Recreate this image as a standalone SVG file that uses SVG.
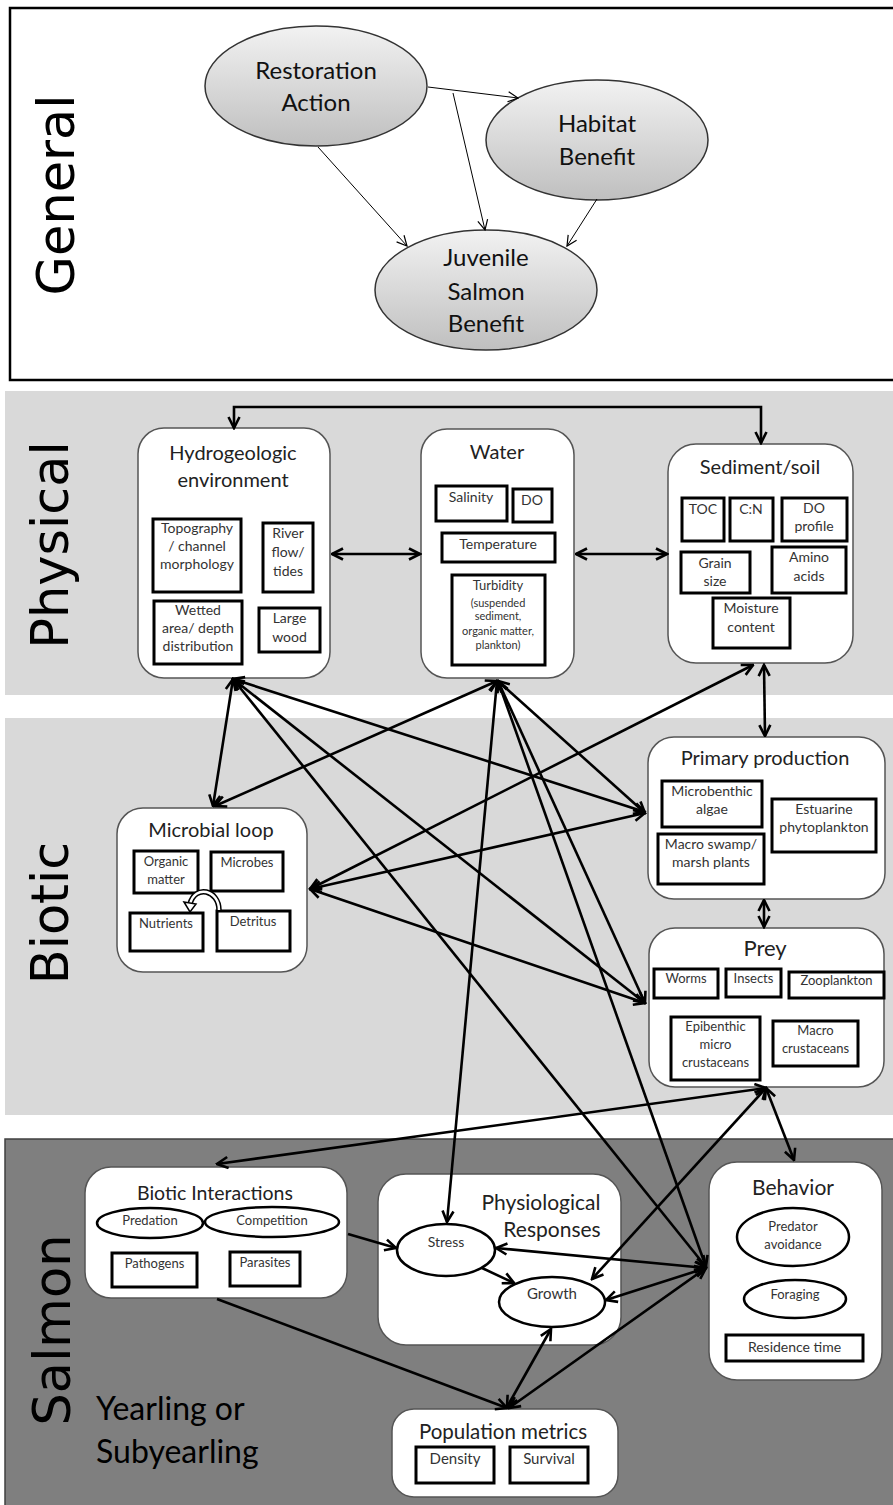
<svg xmlns="http://www.w3.org/2000/svg" width="893" height="1505" viewBox="0 0 893 1505">
<defs>
<linearGradient id="eg" x1="0" y1="0" x2="0" y2="1">
<stop offset="0" stop-color="#f2f2f2"/><stop offset="1" stop-color="#bfbfbf"/>
</linearGradient>
<marker id="ah" viewBox="0 0 14 14" refX="12.5" refY="7" markerWidth="14" markerHeight="14" markerUnits="userSpaceOnUse" orient="auto-start-reverse">
<path d="M1.5,1.5 L12.5,7 L1.5,12.5" fill="none" stroke="#000" stroke-width="2.6"/>
</marker>
<marker id="sh" viewBox="0 0 12 12" refX="11" refY="6" markerWidth="12" markerHeight="12" markerUnits="userSpaceOnUse" orient="auto-start-reverse">
<path d="M1,1 L11,6 L1,11" fill="none" stroke="#000" stroke-width="1.2"/>
</marker>
<style>
.gel{fill:url(#eg);stroke:#333;stroke-width:1.5}
.gt{font-family:Lato,"Liberation Sans",sans-serif;font-size:24px;fill:#111;text-anchor:middle}
.big{font-family:"DejaVu Sans",Verdana,sans-serif;font-size:51px;fill:#000;text-anchor:middle}
.node{fill:#fff;stroke:#555;stroke-width:1.5}
.sub{fill:#fff;stroke:#000;stroke-width:3}
.subel{fill:#fff;stroke:#000;stroke-width:2.5}
.ti{font-family:Lato,"Liberation Sans",sans-serif;font-size:20px;fill:#222;text-anchor:middle}
.st{font-family:Lato,"Liberation Sans",sans-serif;font-size:14px;fill:#333;text-anchor:middle}
.sm{font-family:Lato,"Liberation Sans",sans-serif;font-size:11px;fill:#333;text-anchor:middle}
.yl{font-family:Lato,"Liberation Sans",sans-serif;font-size:32px;fill:#000}
.c{fill:none;stroke:#000;stroke-width:2.6;marker-start:url(#ah);marker-end:url(#ah)}
.c1{fill:none;stroke:#000;stroke-width:2.6;marker-end:url(#ah)}
.g{fill:none;stroke:#000;stroke-width:1;marker-end:url(#sh)}
</style>
</defs>

<!-- panels -->
<g id="panels">
<rect x="10" y="8" width="895" height="372" fill="#fff" stroke="#000" stroke-width="2.5"/>
<rect x="5" y="391" width="890" height="304" fill="#d9d9d9"/>
<rect x="5" y="718" width="890" height="397" fill="#d9d9d9"/>
<rect x="5" y="1139" width="890" height="370" fill="#7f7f7f" stroke="#404040" stroke-width="1.5"/>
<text class="big" transform="translate(74,195) rotate(-90)">General</text>
<text class="big" transform="translate(68,545) rotate(-90)">Physical</text>
<text class="big" transform="translate(68,913) rotate(-90)">Biotic</text>
<text class="big" transform="translate(70,1330) rotate(-90)">Salmon</text>
<text class="yl" x="96" y="1420">Yearling or</text>
<text class="yl" x="96" y="1463">Subyearling</text>
</g>

<!-- General -->
<g id="restoration">
<ellipse class="gel" cx="316" cy="86" rx="111" ry="60"/>
<text class="gt" x="316" y="79">Restoration</text>
<text class="gt" x="316" y="111">Action</text>
</g>
<g id="habitat">
<ellipse class="gel" cx="597" cy="140" rx="111" ry="60"/>
<text class="gt" x="597" y="132">Habitat</text>
<text class="gt" x="597" y="165">Benefit</text>
</g>
<g id="juvenile">
<ellipse class="gel" cx="486" cy="290" rx="111" ry="60"/>
<text class="gt" x="486" y="266">Juvenile</text>
<text class="gt" x="486" y="300">Salmon</text>
<text class="gt" x="486" y="332">Benefit</text>
</g>

<!-- Physical nodes -->
<g id="hydro">
<rect class="node" x="138" y="428" width="192" height="250" rx="26"/>
<text class="ti" x="233" y="460">Hydrogeologic</text>
<text class="ti" x="233" y="487">environment</text>
<rect class="sub" x="153" y="519" width="88" height="73"/>
<text class="st" x="197" y="533">Topography</text>
<text class="st" x="197" y="551">/ channel</text>
<text class="st" x="197" y="569">morphology</text>
<rect class="sub" x="263" y="523" width="50" height="69"/>
<text class="st" x="288" y="538">River</text>
<text class="st" x="288" y="557">flow/</text>
<text class="st" x="288" y="576">tides</text>
<rect class="sub" x="154" y="601" width="88" height="63"/>
<text class="st" x="198" y="615">Wetted</text>
<text class="st" x="198" y="633">area/ depth</text>
<text class="st" x="198" y="651">distribution</text>
<rect class="sub" x="259" y="608" width="61" height="44"/>
<text class="st" x="289.5" y="623">Large</text>
<text class="st" x="289.5" y="642">wood</text>
</g>

<g id="water">
<rect class="node" x="421" y="429" width="153" height="249" rx="26"/>
<text class="ti" x="497" y="459">Water</text>
<rect class="sub" x="436" y="486" width="71" height="35"/>
<text class="st" x="471" y="502">Salinity</text>
<rect class="sub" x="513" y="489" width="39" height="33"/>
<text class="st" x="532" y="505">DO</text>
<rect class="sub" x="442" y="533" width="113" height="29"/>
<text class="st" x="498" y="549">Temperature</text>
<rect class="sub" x="452" y="575" width="93" height="90"/>
<text class="st" x="498" y="590" style="font-size:13px">Turbidity</text>
<text class="sm" x="498" y="607">(suspended</text>
<text class="sm" x="498" y="620">sediment,</text>
<text class="sm" x="498" y="635">organic matter,</text>
<text class="sm" x="498" y="649">plankton)</text>
</g>

<g id="sediment">
<rect class="node" x="668" y="444" width="185" height="219" rx="28"/>
<text class="ti" x="760" y="474">Sediment/soil</text>
<rect class="sub" x="682" y="498" width="42" height="43"/>
<text class="st" x="703" y="514">TOC</text>
<rect class="sub" x="730" y="498" width="43" height="43"/>
<text class="st" x="751" y="514">C:N</text>
<rect class="sub" x="782" y="498" width="65" height="43"/>
<text class="st" x="814" y="513">DO</text>
<text class="st" x="814" y="531">profile</text>
<rect class="sub" x="681" y="552" width="69" height="41"/>
<text class="st" x="715" y="568">Grain</text>
<text class="st" x="715" y="586">size</text>
<rect class="sub" x="772" y="547" width="74" height="46"/>
<text class="st" x="809" y="562">Amino</text>
<text class="st" x="809" y="581">acids</text>
<rect class="sub" x="713" y="598" width="77" height="50"/>
<text class="st" x="751" y="613">Moisture</text>
<text class="st" x="751" y="632">content</text>
</g>

<!-- Biotic nodes -->
<g id="microbial">
<rect class="node" x="117" y="808" width="190" height="164" rx="26"/>
<text class="ti" x="211" y="837">Microbial loop</text>
<rect class="sub" x="134" y="851" width="64" height="42"/>
<text class="st" x="166" y="866" style="font-size:13px">Organic</text>
<text class="st" x="166" y="884" style="font-size:13px">matter</text>
<rect class="sub" x="211" y="852" width="72" height="39"/>
<text class="st" x="247" y="867" style="font-size:13px">Microbes</text>
<rect class="sub" x="130" y="913" width="73" height="38"/>
<text class="st" x="166" y="928" style="font-size:13px">Nutrients</text>
<rect class="sub" x="217" y="911" width="73" height="40"/>
<text class="st" x="253" y="926" style="font-size:13px">Detritus</text>
<path d="M219,910 C219,890 195,884 190,904" fill="none" stroke="#000" stroke-width="5.5"/>
<path d="M219,910 C219,890 195,884 190,904" fill="none" stroke="#fff" stroke-width="2.5"/>
<path d="M184,902 L190,912 L196,904 Z" fill="#fff" stroke="#000" stroke-width="1.5"/>
</g>

<g id="primary">
<rect class="node" x="648" y="737" width="237" height="162" rx="26"/>
<text class="ti" x="765" y="765">Primary production</text>
<rect class="sub" x="662" y="781" width="100" height="46"/>
<text class="st" x="712" y="796">Microbenthic</text>
<text class="st" x="712" y="814">algae</text>
<rect class="sub" x="658" y="834" width="106" height="50"/>
<text class="st" x="711" y="849">Macro swamp/</text>
<text class="st" x="711" y="867">marsh plants</text>
<rect class="sub" x="772" y="799" width="104" height="53"/>
<text class="st" x="824" y="814">Estuarine</text>
<text class="st" x="824" y="832">phytoplankton</text>
</g>

<g id="prey">
<rect class="node" x="649" y="928" width="235" height="159" rx="26"/>
<text class="ti" x="765" y="956" style="font-size:22px">Prey</text>
<rect class="sub" x="654" y="969" width="64" height="29"/>
<text class="st" x="686" y="983" style="font-size:13px">Worms</text>
<rect class="sub" x="726" y="969" width="55" height="28"/>
<text class="st" x="753.5" y="983" style="font-size:13px">Insects</text>
<rect class="sub" x="789" y="972" width="95" height="26"/>
<text class="st" x="836.5" y="985" style="font-size:13px">Zooplankton</text>
<rect class="sub" x="671" y="1017" width="89" height="63"/>
<text class="st" x="715.5" y="1031" style="font-size:13px">Epibenthic</text>
<text class="st" x="715.5" y="1049" style="font-size:13px">micro</text>
<text class="st" x="715.5" y="1067" style="font-size:13px">crustaceans</text>
<rect class="sub" x="773" y="1021" width="85" height="45"/>
<text class="st" x="815.5" y="1035" style="font-size:13px">Macro</text>
<text class="st" x="815.5" y="1053" style="font-size:13px">crustaceans</text>
</g>

<!-- Salmon nodes -->
<g id="biotic-interactions">
<rect class="node" x="85" y="1167" width="262" height="131" rx="26"/>
<text class="ti" x="215" y="1200" style="font-size:19.5px">Biotic Interactions</text>
<ellipse class="subel" cx="150" cy="1223" rx="53" ry="15"/>
<text class="st" x="150" y="1225" style="font-size:13px">Predation</text>
<ellipse class="subel" cx="272" cy="1222" rx="67" ry="15"/>
<text class="st" x="272" y="1225" style="font-size:13px">Competition</text>
<rect class="sub" x="112" y="1253" width="85" height="34"/>
<text class="st" x="154.5" y="1268" style="font-size:13px">Pathogens</text>
<rect class="sub" x="230" y="1252" width="70" height="34"/>
<text class="st" x="265" y="1267" style="font-size:13px">Parasites</text>
</g>

<g id="physiological">
<rect class="node" x="378" y="1174" width="243" height="171" rx="28"/>
<text class="ti" x="541" y="1210" style="font-size:21px">Physiological</text>
<text class="ti" x="552" y="1237" style="font-size:21px">Responses</text>
<ellipse class="subel" cx="446" cy="1250" rx="49" ry="26"/>
<text class="st" x="446" y="1247">Stress</text>
<ellipse class="subel" cx="552" cy="1302" rx="53" ry="25"/>
<text class="st" x="552" y="1299" style="font-size:15px">Growth</text>
</g>

<g id="behavior">
<rect class="node" x="709" y="1162" width="173" height="218" rx="28"/>
<text class="ti" x="793" y="1195" style="font-size:21px">Behavior</text>
<ellipse class="subel" cx="793" cy="1237" rx="56" ry="29"/>
<text class="st" x="793" y="1231" style="font-size:13px">Predator</text>
<text class="st" x="793" y="1249" style="font-size:13px">avoidance</text>
<ellipse class="subel" cx="795" cy="1299" rx="51" ry="19"/>
<text class="st" x="795" y="1299" style="font-size:13px">Foraging</text>
<rect class="sub" x="726" y="1335" width="137" height="26"/>
<text class="st" x="794.5" y="1352">Residence time</text>
</g>

<g id="population">
<rect class="node" x="392" y="1409" width="226" height="88" rx="22"/>
<text class="ti" x="503" y="1439" style="font-size:20.5px">Population metrics</text>
<rect class="sub" x="416" y="1447" width="78" height="36"/>
<text class="st" x="455" y="1464" style="font-size:15px">Density</text>
<rect class="sub" x="510" y="1447" width="78" height="36"/>
<text class="st" x="549" y="1464" style="font-size:15px">Survival</text>
</g>

<!-- connectors -->
<g id="connectors">
<line class="g" x1="428" y1="87" x2="518" y2="98"/>
<line class="g" x1="453" y1="93" x2="485" y2="230"/>
<line class="g" x1="318" y1="147" x2="407" y2="246"/>
<line class="g" x1="597" y1="199" x2="567" y2="246"/>

<path class="c" d="M234,428 V407 H761 V443"/>
<line class="c" x1="332" y1="554" x2="420" y2="554"/>
<line class="c" x1="576" y1="554" x2="667" y2="554"/>
<line class="c" x1="764" y1="665" x2="765" y2="736"/>
<line class="c" x1="233" y1="679" x2="213" y2="806"/>
<line class="c" x1="497" y1="681" x2="215" y2="806"/>
<line class="c" x1="753" y1="665" x2="310" y2="889"/>
<line class="c" x1="233" y1="679" x2="645" y2="812"/>
<line class="c" x1="233" y1="679" x2="645" y2="1003"/>
<line class="c" x1="233" y1="679" x2="706" y2="1267"/>
<line class="c" x1="497" y1="681" x2="447" y2="1222"/>
<line class="c" x1="498" y1="681" x2="645" y2="813"/>
<line class="c" x1="498" y1="681" x2="645" y2="1003"/>
<line class="c" x1="498" y1="681" x2="706" y2="1267"/>
<line class="c" x1="310" y1="889" x2="645" y2="813"/>
<line class="c" x1="310" y1="889" x2="645" y2="1003"/>
<line class="c" x1="764" y1="900" x2="764" y2="927"/>
<line class="c" x1="766" y1="1088" x2="217" y2="1164"/>
<line class="c" x1="766" y1="1088" x2="794" y2="1160"/>
<line class="c" x1="766" y1="1088" x2="592" y2="1279"/>
<line class="c1" x1="348" y1="1234" x2="396" y2="1248"/>
<line class="c1" x1="217" y1="1299" x2="507" y2="1408"/>
<line class="c" x1="496" y1="1248" x2="706" y2="1268"/>
<line class="c1" x1="482" y1="1268" x2="514" y2="1283"/>
<line class="c" x1="606" y1="1300" x2="706" y2="1268"/>
<line class="c" x1="551" y1="1329" x2="507" y2="1407"/>
<line class="c" x1="706" y1="1268" x2="509" y2="1408"/>
</g>
</svg>
